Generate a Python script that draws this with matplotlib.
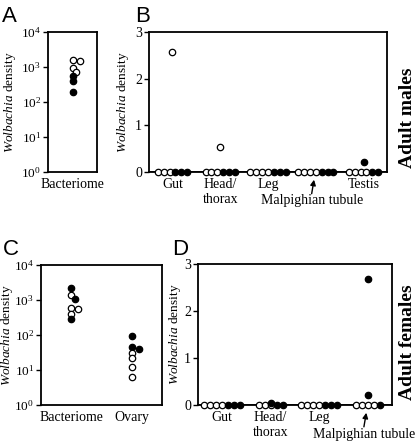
import matplotlib

matplotlib.use('agg')

import numpy as np
import matplotlib.pyplot as plt
from matplotlib import transforms

plt.rcParams['font.family'] = 'Liberation Serif'
plt.rcParams['font.size'] = 10
plt.rcParams['mathtext.fontset'] = 'custom'
plt.rcParams['mathtext.rm'] = 'Liberation Serif'
plt.rcParams['mathtext.it'] = 'Liberation Serif:italic'
plt.rcParams['mathtext.bf'] = 'Liberation Serif:bold'

# A: adult males, bacteriome (log scale)
a_tissues = ['Bacteriome']
a_open = [[1500, 1400, 900, 700]]
a_filled = [[550, 400, 190]]

# C: adult females, bacteriome and ovary (log scale)
c_tissues = ['Bacteriome', 'Ovary']
c_open = [[1400, 590, 550, 400], [30, 22, 12, 6.5]]
c_filled = [[2200, 1070, 290], [93, 45, 40]]

# B: adult males, other tissues
b_tissues = ['Gut', 'Head/\nthorax', 'Leg', 'Malpighian tubule', 'Testis']
b_open = [[0, 0, 0, 2.57], [0, 0, 0, 0.54], [0, 0, 0, 0], [0, 0, 0, 0], [0, 0, 0, 0]]
b_filled = [[0, 0, 0], [0, 0, 0], [0, 0, 0], [0, 0, 0], [0.22, 0, 0]]

# D: adult females, other tissues
d_tissues = ['Gut', 'Head/\nthorax', 'Leg', 'Malpighian tubule']
d_open = [[0, 0, 0, 0], [0, 0, 0], [0, 0, 0, 0], [0, 0, 0, 0]]
d_filled = [[0, 0, 0], [0.04, 0, 0], [0, 0, 0], [2.68, 0.22, 0]]

W, H = 417, 447
MS = 4.6
MEW = 0.9
STRIDE = 8.15


def axes_px(left, top, right, bottom):
    return fig.add_axes([left / W, 1 - bottom / H, (right - left) / W, (bottom - top) / H])


def style(ax, ticksize=10):
    for s in ax.spines.values():
        s.set_linewidth(1.3)
    ax.tick_params(axis='y', direction='out', length=3.5, width=1, pad=1.5, labelsize=ticksize)
    ax.set_xticks([])
    ax.minorticks_off()
    ax.set_ylabel(r'$\mathit{Wolbachia}$ density', fontsize=9.6)


def dot(ax, x, v, filled):
    ax.plot(x, v, 'o', ms=MS, mew=MEW, mec='black',
            mfc='black' if filled else 'white', clip_on=False, zorder=3)


def swarm(ax, x0, open_vals, filled_vals, d=6.0):
    pts = [(v, False) for v in open_vals] + [(v, True) for v in filled_vals]
    pts.sort(key=lambda p: -p[0])
    placed = []
    inv = ax.transData.inverted()
    for v, filled in pts:
        px, py = ax.transData.transform((x0, v))
        cx = px
        for k in [0, 1, -1, 2, -2]:
            cx = px + k * d * 0.6
            if all(np.hypot(cx - qx, py - qy) >= d * 0.75 for qx, qy in placed):
                break
        placed.append((cx, py))
        dot(ax, inv.transform((cx, py))[0], v, filled)


def tissue_row(ax, xc, open_vals, filled_vals):
    base = [(v, False) for v in open_vals if v == 0] + [(v, True) for v in filled_vals if v == 0]
    n = len(base)
    for i, (v, filled) in enumerate(base):
        dot(ax, xc + i - (n - 1) / 2, v, filled)
    for v in open_vals:
        if v != 0:
            dot(ax, xc, v, False)
    for v in filled_vals:
        if v != 0:
            dot(ax, xc, v, True)


def log_panel(ax, tissues, opens, filleds, xlim):
    ax.set_yscale('log')
    ax.set_ylim(1, 1e4)
    ax.set_xlim(*xlim)
    style(ax, ticksize=9.5)
    tr = transforms.blended_transform_factory(ax.transData, ax.transAxes)
    for i, name in enumerate(tissues):
        swarm(ax, i, opens[i], filleds[i])
        ax.text(i, -0.045, name, transform=tr, ha='center', va='top', fontsize=10)


def linear_panel(ax, tissues, opens, filleds):
    n = len(tissues)
    ax.set_ylim(0, 3)
    ax.set_yticks([0, 1, 2, 3])
    ax.set_xlim(-4.0, STRIDE * (n - 1) + 4.0)
    style(ax)
    ax.axhline(0, color='black', lw=1.3, zorder=1)
    tr = transforms.blended_transform_factory(ax.transData, ax.transAxes)
    for i, name in enumerate(tissues):
        xc = i * STRIDE
        tissue_row(ax, xc, opens[i], filleds[i])
        if name.startswith('Malpighian'):
            ax.text(xc - 0.7, -0.16, name, transform=tr, ha='center', va='top', fontsize=10)
            ax.annotate('', xy=(xc - 0.3, -0.055), xytext=(xc - 0.7, -0.155),
                        xycoords=tr, textcoords=tr,
                        arrowprops=dict(arrowstyle='-|>', color='black', lw=1,
                                        mutation_scale=8, shrinkA=0, shrinkB=0))
        else:
            ax.text(xc, -0.045, name, transform=tr, ha='center', va='top',
                    fontsize=10, linespacing=1.15)


fig = plt.figure(figsize=(W / 100, H / 100), dpi=100)

ax_a = axes_px(48, 31.5, 97, 172)
log_panel(ax_a, a_tissues, a_open, a_filled, (-0.5, 0.5))
ax_a.yaxis.set_label_coords(-0.62, 0.5)

ax_b = axes_px(149, 32, 387, 172)
linear_panel(ax_b, b_tissues, b_open, b_filled)
ax_b.yaxis.set_label_coords(-0.075, 0.5)

ax_c = axes_px(41, 265, 162, 405)
log_panel(ax_c, c_tissues, c_open, c_filled, (-0.5, 1.5))
ax_c.yaxis.set_label_coords(-0.215, 0.5)

ax_d = axes_px(198, 264, 392, 405)
linear_panel(ax_d, d_tissues, d_open, d_filled)
ax_d.yaxis.set_label_coords(-0.075, 0.5)

for letter, x, y in [('A', 2, 22), ('B', 135, 22), ('C', 3, 255), ('D', 172, 255)]:
    fig.text(x / W, 1 - y / H, letter, family='Liberation Sans', fontsize=16,
             ha='left', va='baseline')

fig.text(407 / W, 1 - 118 / H, 'Adult males', rotation=90, fontsize=14,
         fontweight='bold', ha='center', va='center')
fig.text(407 / W, 1 - 342 / H, 'Adult females', rotation=90, fontsize=14,
         fontweight='bold', ha='center', va='center')

fig.savefig('out.png', dpi=100)
